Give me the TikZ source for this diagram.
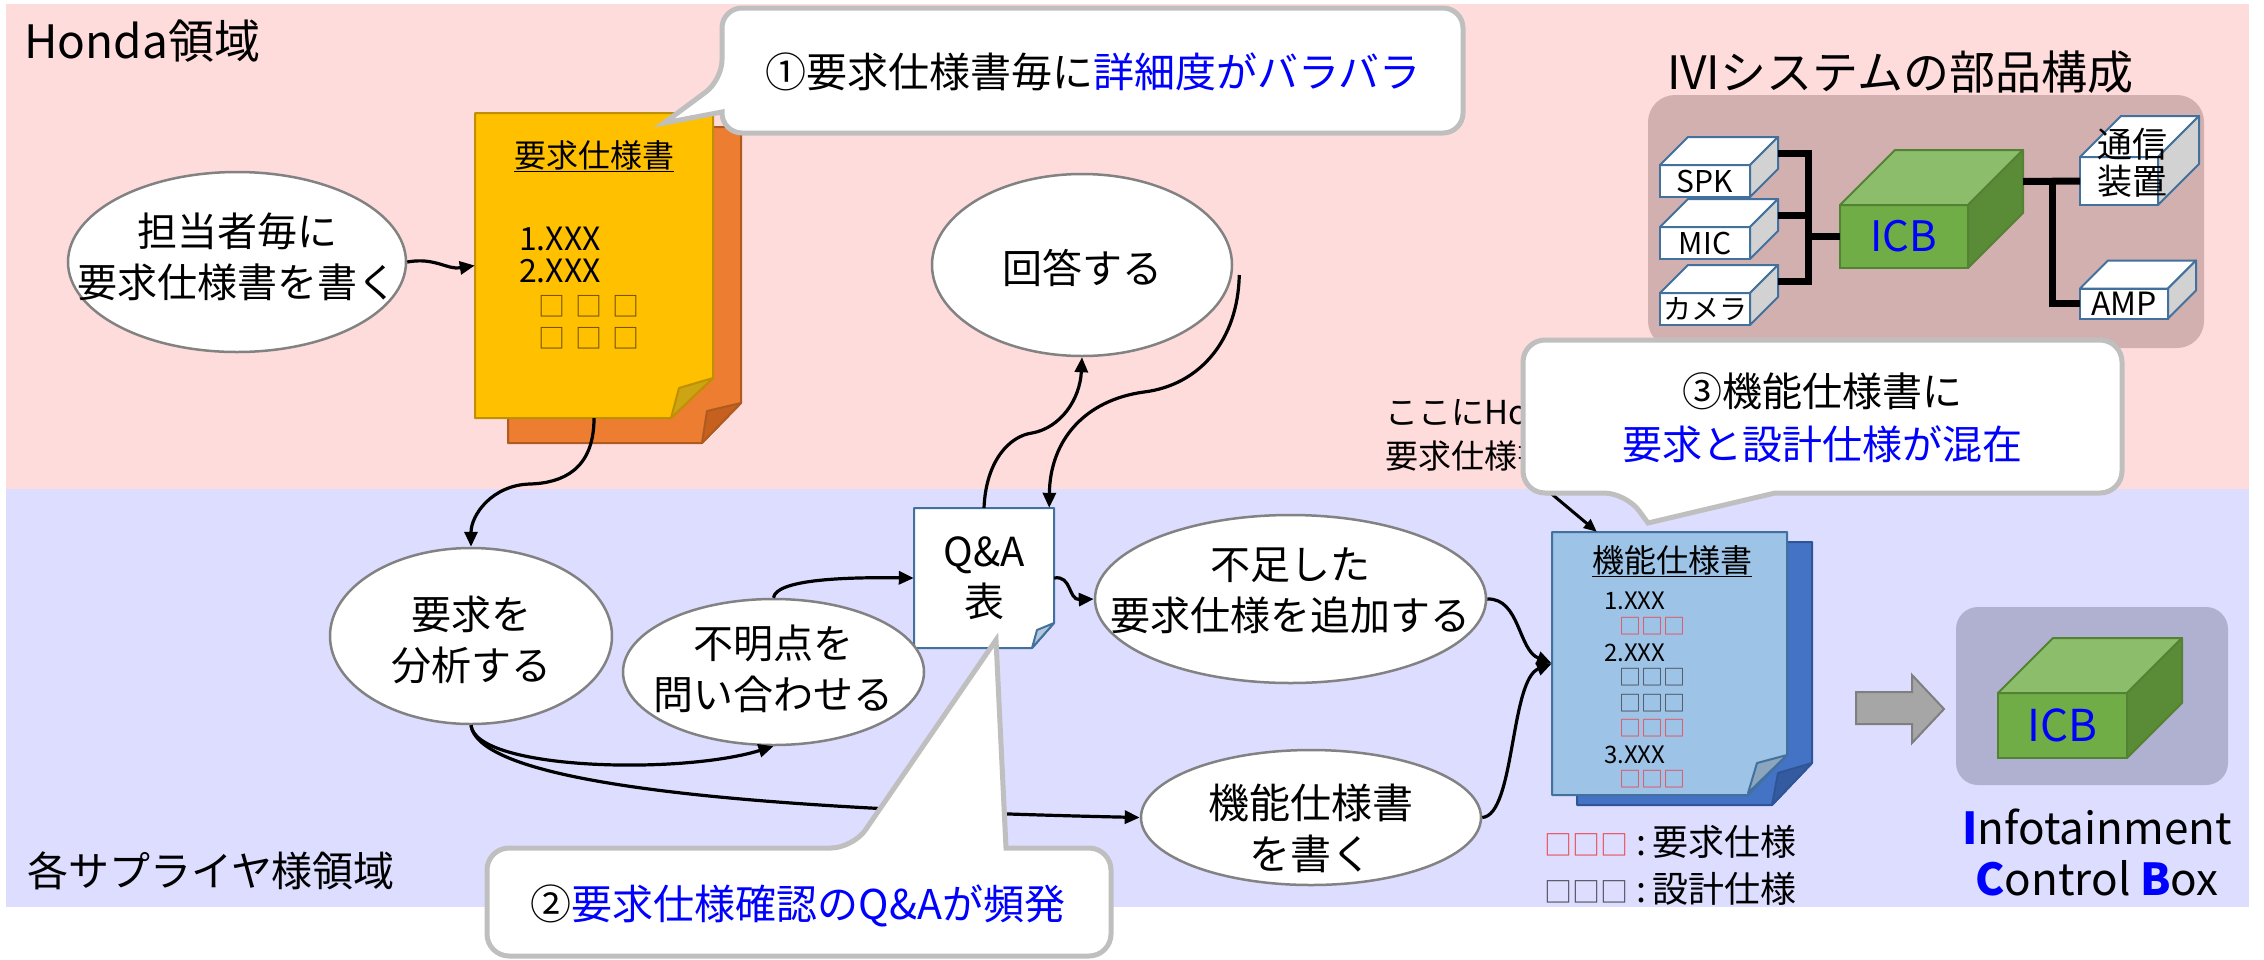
\documentclass[tikz,border=0pt]{standalone}
\usepackage{fontspec}
\setmainfont{Noto Sans CJK JP}
\usetikzlibrary{arrows.meta,calc,shapes.geometric}

\definecolor{pinkbg}{RGB}{255,220,220}
\definecolor{lavbg}{RGB}{221,221,255}
\definecolor{ellgray}{RGB}{130,130,130}
\definecolor{callgray}{RGB}{191,191,191}
\definecolor{txtblue}{RGB}{0,0,255}
\definecolor{docyel}{RGB}{255,192,0}
\definecolor{docyelb}{RGB}{191,144,0}
\definecolor{docyelf}{RGB}{204,164,20}
\definecolor{docor}{RGB}{237,125,49}
\definecolor{docorb}{RGB}{174,90,33}
\definecolor{docorf}{RGB}{197,96,30}
\definecolor{docblu}{RGB}{157,195,230}
\definecolor{docblub}{RGB}{65,113,156}
\definecolor{docbluf}{RGB}{140,165,190}
\definecolor{docdk}{RGB}{68,114,196}
\definecolor{docdkb}{RGB}{47,85,151}
\definecolor{docdkf}{RGB}{52,90,160}
\definecolor{qaflap}{RGB}{180,199,220}
\definecolor{sqbrown}{RGB}{110,80,0}
\definecolor{sqred}{RGB}{235,70,80}
\definecolor{sqgray}{RGB}{70,70,80}
\definecolor{panel}{RGB}{210,176,176}
\definecolor{icbpanel}{RGB}{176,176,208}
\definecolor{grfront}{RGB}{112,173,71}
\definecolor{grtop}{RGB}{140,189,107}
\definecolor{grside}{RGB}{90,140,56}
\definecolor{grline}{RGB}{84,130,53}
\definecolor{cubeline}{RGB}{65,113,156}
\definecolor{cubeside}{RGB}{210,210,210}
\definecolor{arrgray}{RGB}{166,166,166}
\definecolor{arrgrayb}{RGB}{127,127,127}

\newcommand\fs[2]{\fontsize{#1}{#2}\selectfont}
% top and side faces of a box whose front face is node #1
\newcommand\cubefaces[5]{%
  \filldraw[fill=#3, draw=#5, line width=2pt, line join=round]
    (#1.north west) -- ++(#2,-#2) -- ($(#1.north east)+(#2,-#2)$) -- (#1.north east) -- cycle;
  \filldraw[fill=#4, draw=#5, line width=2pt, line join=round]
    (#1.north east) -- ++(#2,-#2) -- ($(#1.south east)+(#2,-#2)$) -- (#1.south east) -- cycle;
}

\begin{document}
\begin{tikzpicture}[x=1pt,y=-1pt,
  every node/.style={inner sep=0pt},
  proc/.style={ellipse, draw=ellgray, line width=2.5pt, fill=white},
  proctext/.style={align=center, font=\fs{40}{51}},
  conn/.style={line width=3.2pt, -{Triangle[length=15pt,width=13pt]}},
  callout/.style={fill=white, draw=callgray, line width=5pt},
  cubefront/.style={draw=cubeline, fill=white, line width=2pt, outer sep=0pt, font=\fs{30}{32}},
  icbfront/.style={draw=grline, fill=grfront, line width=2pt, outer sep=0pt, font=\fs{42}{44}, text=txtblue},
  bus/.style={line width=7pt},
  docline/.style={line width=2pt, line join=round},
  item/.style={anchor=west, font=\fs{24}{26}},
  sq/.style={anchor=west, font=\fs{22}{24}},
]
\useasboundingbox (0,0) rectangle (2264,959);

% --- areas ---
\fill[pinkbg] (6,4) rectangle (2249,489);
\fill[lavbg] (6,489) rectangle (2249,907);
\node[anchor=west, font=\fs{46}{50}] (hondalbl) at (24,41) {Honda領域};
\node[anchor=west, font=\fs{41}{48}] (suplbl) at (27,871) {各サプライヤ様領域};

% --- requirement document (yellow) ---
\filldraw[docline, fill=docor, draw=docorb] (508,127) -- (741,127) -- (741,403) -- (702,443) -- (508,443) -- cycle;
\filldraw[docline, fill=docorf, draw=docorb] (741,403) -- (707,411) -- (702,443) -- cycle;
\filldraw[docline, fill=docyel, draw=docyelb] (475,113) -- (713,113) -- (713,378) -- (671,418) -- (475,418) -- cycle;
\filldraw[docline, fill=docyelf, draw=docyelb] (713,378) -- (679,388) -- (671,418) -- cycle;
\node[minimum width=238pt, minimum height=305pt] (reqdoc) at (594,265.5) {};
\node[font=\fs{32}{36}] (reqtitle) at (594,156) {\underline{要求仕様書}};
\node[anchor=west, font=\fs{32}{34}] (reqi1) at (519,239) {1.XXX};
\node[anchor=west, font=\fs{32}{34}] (reqi2) at (519,271) {2.XXX};
\node[anchor=west, font=\fs{27}{28}, text=sqbrown] (reqs1) at (538,306) {□\hspace{10pt}□\hspace{10pt}□};
\node[anchor=west, font=\fs{27}{28}, text=sqbrown] (reqs2) at (538,338) {□\hspace{10pt}□\hspace{10pt}□};

% --- Q&A sheet ---
\filldraw[docline, fill=white, draw=docblub] (914,508) -- (1054,508) -- (1054,623) -- (1032,648) -- (914,648) -- cycle;
\filldraw[docline, fill=qaflap, draw=docblub] (1054,623) -- (1037,630) -- (1032,648) -- cycle;
\node[minimum width=140pt, minimum height=140pt, align=center, font=\fs{40}{50}] (qa) at (984,578) {Q\&A\\表};

% --- functional specification (blue) ---
\filldraw[docline, fill=docdk, draw=docdkb] (1577,542) -- (1812,542) -- (1812,763) -- (1772,805) -- (1577,805) -- cycle;
\filldraw[docline, fill=docdkf, draw=docdkb] (1812,763) -- (1778,773) -- (1772,805) -- cycle;
\filldraw[docline, fill=docblu, draw=docblub] (1552,532) -- (1787,532) -- (1787,755) -- (1748,795) -- (1552,795) -- cycle;
\filldraw[docline, fill=docbluf, draw=docblub] (1787,755) -- (1757,763) -- (1748,793) -- cycle;
\node[minimum width=235pt, minimum height=263pt] (fdoc) at (1669.5,663.5) {};
\node[font=\fs{32}{36}] (ftitle) at (1672,561) {\underline{機能仕様書}};
\node[item] (fi1) at (1604,601) {1.XXX};
\node[sq, text=sqred] (fs1) at (1619,626) {□□□};
\node[item] (fi2) at (1604,653) {2.XXX};
\node[sq, text=sqgray] (fs2) at (1619,677) {□□□};
\node[sq, text=sqgray] (fs3) at (1619,703) {□□□};
\node[sq, text=sqred] (fs4) at (1619,728) {□□□};
\node[item] (fi3) at (1604,755) {3.XXX};
\node[sq, text=sqred] (fs5) at (1619,779) {□□□};

% --- legend ---
\node[anchor=west, font=\fs{36}{40}] (legreq) at (1544,842) {{\color{sqred}\fs{28}{30}□□□}\hspace{8pt}:\hspace{6pt}要求仕様};
\node[anchor=west, font=\fs{36}{40}] (legdes) at (1544,889) {{\color{sqgray}\fs{28}{30}□□□}\hspace{8pt}:\hspace{6pt}設計仕様};

% --- process steps ---
\node[proc, minimum width=338pt, minimum height=180pt] (write) at (237,262) {};
\node[proctext] at (237,257) {担当者毎に\\要求仕様書を書く};
\node[proc, minimum width=282pt, minimum height=176pt] (analyze) at (471,636) {};
\node[proctext] at (471,640) {要求を\\分析する};
\node[proc, minimum width=301pt, minimum height=146pt] (inquire) at (773.5,672) {};
\node[proctext] at (773.5,669) {不明点を\\問い合わせる};
\node[proc, minimum width=300pt, minimum height=182pt] (answer) at (1082,265) {};
\node[proctext] at (1082,268) {回答する};
\node[proc, minimum width=391pt, minimum height=168pt] (addreq) at (1290.5,599) {};
\node[proctext] at (1290.5,591) {不足した\\要求仕様を追加する};
\node[proc, minimum width=340pt, minimum height=135pt] (writefs) at (1311,817.5) {};
\node[proctext, font=\fs{41}{51}] at (1311,828) {機能仕様書\\を書く};

% --- note above the functional specification ---
\node[anchor=north west, align=left, font=\fs{33}{44}] (note) at (1385,398) {ここにHondaの\\要求仕様書};
\coordinate (notefoot) at (1535,480);

% --- flow ---
\draw[conn] (write.east) .. controls (435,257) and (447,270) .. (reqdoc.west);
\draw[conn] (reqdoc.south) .. controls (594,470) and (562,483) .. (530,484)
                           .. controls (492,485) and (471,515) .. (analyze.north);
\draw[conn] (analyze.south) .. controls (476,770) and (680,775) .. (inquire.south);
\draw[conn] (analyze.south) .. controls (480,790) and (800,810) .. (writefs.west);
\draw[conn] (inquire.north) .. controls (776,580) and (840,577) .. (qa.west);
\draw[conn] (qa.north) .. controls (986,460) and (1010,436) .. (1032,433)
                       .. controls (1060,428) and (1080,400) .. (answer.south);
\draw[conn] ($(answer.east)+(6,10)$) .. controls (1238,340) and (1200,385) .. (1144,392)
                                     .. controls (1085,400) and (1050,440) .. ($(qa.north east)+(-5,0)$);
\draw[conn] (qa.east) .. controls (1072,575) and (1068,600) .. (addreq.west);
\draw[conn] (addreq.east) .. controls (1520,598) and (1518,650) .. (fdoc.west);
\draw[conn] (writefs.east) .. controls (1515,815) and (1510,680) .. (fdoc.west);
\draw[line width=3pt, -{Triangle[length=13pt,width=11pt]}] (notefoot) -- ($(fdoc.north west)+(45,0)$);

% --- IVI system parts ---
\node[font=\fs{46}{50}] (ivititle) at (1900,72) {IVIシステムの部品構成};
\fill[panel, rounded corners=27pt] (1648,95) rectangle (2204,348);
\node[cubefront, minimum width=90pt, minimum height=32pt] (spk) at (1705,181) {SPK};
\cubefaces{spk}{28}{white}{cubeside}{cubeline}
\node[cubefront, minimum width=90pt, minimum height=32pt] (mic) at (1705,243) {MIC};
\cubefaces{mic}{28}{white}{cubeside}{cubeline}
\node[cubefront, minimum width=90pt, minimum height=32pt, font=\fs{28}{30}] (cam) at (1705,309) {カメラ};
\cubefaces{cam}{28}{white}{cubeside}{cubeline}
\node[cubefront, minimum width=78pt, minimum height=48pt] (tele) at (2119,181) {};
\cubefaces{tele}{41}{white}{cubeside}{cubeline}
\node[align=center, font=\fs{35}{37}] (teletxt) at (2132,163) {通信\\装置};
\node[cubefront, minimum width=88pt, minimum height=30pt, font=\fs{32}{34}] (amp) at (2124,303.5) {AMP};
\cubefaces{amp}{28}{white}{cubeside}{cubeline}
\node[icbfront, minimum width=128pt, minimum height=63pt] (icb) at (1904,236.5) {ICB};
\cubefaces{icb}{55}{grtop}{grside}{grline}
\draw[bus] ($(spk.east)+(28,-28)$) -- ++(30,0) |- ($(cam.east)+(28,-28)$);
\draw[bus] ($(mic.east)+(28,-28)$) -- ++(30,0);
\draw[bus] (icb.west) -- ++(-33.5,0);
\draw[bus] ($(icb.east)+(55,-55)$) -- (tele.west);
\draw[bus] ($(icb.east)+(84,-55)$) |- (amp.west);

% --- resulting ICB ---
\filldraw[fill=arrgray, draw=arrgrayb, line width=2pt]
  (1856,692) -- (1912,692) -- (1912,675) -- (1944,709) -- (1912,743) -- (1912,724) -- (1856,724) -- cycle;
\fill[icbpanel, rounded corners=22pt] (1956,607) rectangle (2228,785);
\node[icbfront, minimum width=129pt, minimum height=65pt, font=\fs{44}{46}] (icb2) at (2062.5,725.5) {ICB};
\cubefaces{icb2}{55}{grtop}{grside}{grline}
\node[font=\fs{44}{50}] (infoline) at (2097,827) {\textcolor{txtblue}{\textbf{I}}nfotainment};
\node[font=\fs{44}{50}] (ctrlline) at (2097,878) {\textcolor{txtblue}{\textbf{C}}ontrol \textcolor{txtblue}{\textbf{B}}ox};

% --- callouts ---
\filldraw[callout] (664,123) -- (722,112) [rounded corners=20pt] -- (722,133) -- (1463,133) -- (1463,8) -- (722,8) -- (722,80) [sharp corners] -- cycle;
\node[font=\fs{41}{48}] (c1txt) at (1093,72) {①要求仕様書毎に\textcolor{txtblue}{詳細度がバラバラ}};

\filldraw[callout] (996,640) -- (1006,848) [rounded corners=22pt] -- (1111,848) -- (1111,956) -- (487,956) -- (487,848) -- (853,848) [sharp corners] -- cycle;
\node[font=\fs{41}{48}] (c2txt) at (798,906) {②\textcolor{txtblue}{要求仕様確認のQ\&Aが頻発}};

\filldraw[callout] (1648,523) -- (1775,493) [rounded corners=22pt] -- (2122,493) -- (2122,340) -- (1523,340) -- (1523,493) -- (1626,493) [sharp corners] -- cycle;
\node[align=center, font=\fs{40}{53}] (c3txt) at (1822,418) {③機能仕様書に\\\textcolor{txtblue}{要求と設計仕様が混在}};
\end{tikzpicture}
\end{document}
